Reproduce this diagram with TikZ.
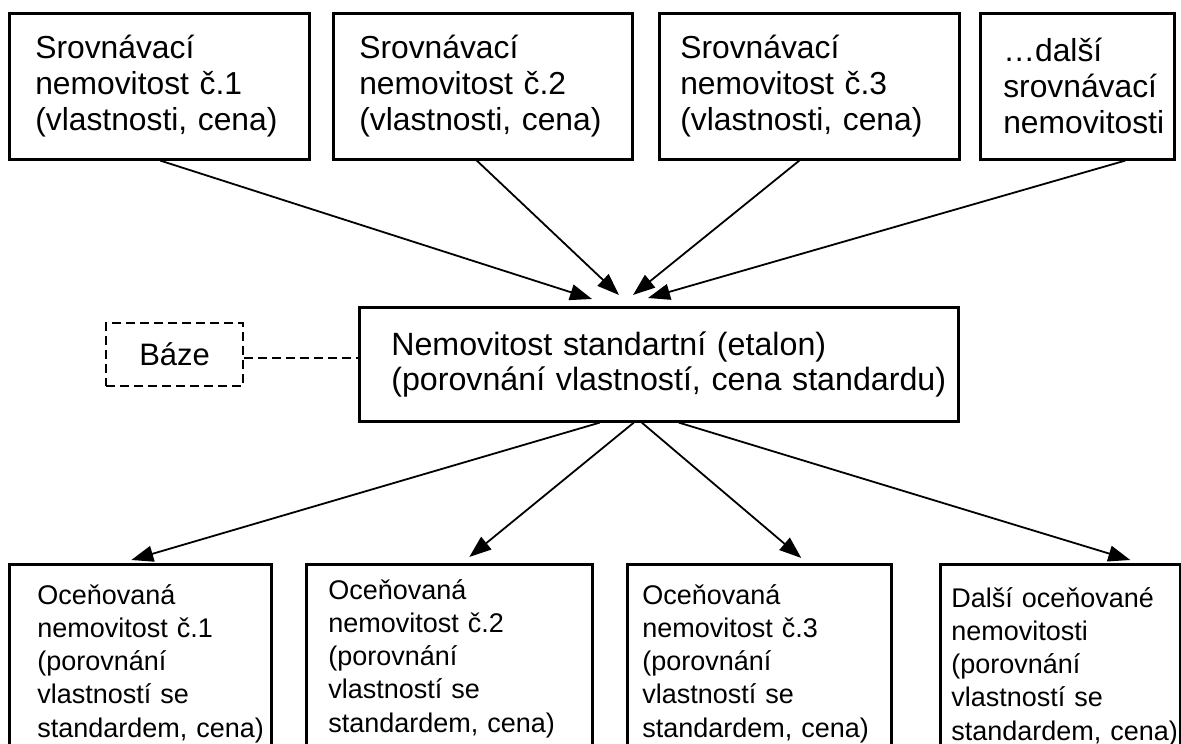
\documentclass[tikz,border=0pt]{standalone}
\usepackage{fontspec}
\setmainfont{Liberation Sans}
\usetikzlibrary{arrows.meta,positioning}

\begin{document}
\begin{tikzpicture}[x=1pt,y=-1pt,
  indent/.style={inner xsep=0pt,
                 execute at begin node={\leftskip=#1\rightskip=0pt plus 1fil minus 40pt}},
  srbox/.style={draw,line width=2.6pt,anchor=north west,align=left,
                minimum height=146pt,inner ysep=0pt,
                font=\fontsize{31.8}{36}\selectfont},
  ocbox/.style={draw,line width=2.6pt,anchor=north west,align=left,
                text height=21pt,text depth=190pt,
                font=\fontsize{27}{33.2}\selectfont},
  etbox/.style={draw,line width=2.6pt,anchor=north west,align=left,
                minimum height=114pt,inner ysep=0pt,
                font=\fontsize{32.2}{34.5}\selectfont},
  bzbox/.style={draw,line width=2.3pt,dash pattern=on 9pt off 5pt,
                anchor=north west,minimum width=137pt,minimum height=63pt,
                inner sep=0pt,font=\fontsize{31}{35}\selectfont},
  tohead/.style={line width=1.8pt,-{Triangle[length=22pt,width=16pt]}}]

  \useasboundingbox (0,0) rectangle (1181,744);
  \clip (0,0) rectangle (1181,744);

  % comparable properties
  \node[srbox,text width=300pt,indent=26pt] (sr1) at (8,12)
    {Srovnávací\\nemovitost č.1\\(vlastnosti, cena)};
  \node[srbox,text width=299pt,indent=26pt] (sr2) at (332,12)
    {Srovnávací\\nemovitost č.2\\(vlastnosti, cena)};
  \node[srbox,text width=300pt,indent=21pt] (sr3) at (658,12)
    {Srovnávací\\nemovitost č.3\\(vlastnosti, cena)};
  \node[srbox,text width=194pt,indent=23pt] (sr4) at (979,12)
    {…další\\srovnávací\\nemovitosti};

  % standard
  \node[etbox,text width=599pt,indent=32pt] (et) at (358,306)
    {Nemovitost standartní (etalon)\\(porovnání vlastností, cena standardu)};
  \node[bzbox] (bz) at (105,322) {Báze};
  \draw[line width=2.3pt,dash pattern=on 9pt off 5pt]
    ([yshift=-3pt]bz.east) -- ([yshift=-3pt]bz.east -| et.west);

  % valued properties
  \node[ocbox,text width=262pt,indent=28pt,inner ysep=19pt] (oc1) at (8,563)
    {Oceňovaná\\nemovitost č.1\\(porovnání\\vlastností se\\standardem, cena)};
  \node[ocbox,text width=286pt,indent=22pt,inner ysep=14pt] (oc2) at (305,563)
    {Oceňovaná\\nemovitost č.2\\(porovnání\\vlastností se\\standardem, cena)};
  \node[ocbox,text width=264pt,indent=15pt,inner ysep=19pt] (oc3) at (626,563)
    {Oceňovaná\\nemovitost č.3\\(porovnání\\vlastností se\\standardem, cena)};
  \node[ocbox,text width=240pt,indent=11pt,inner ysep=22pt] (oc4) at (939,563)
    {Další oceňované\\nemovitosti\\(porovnání\\vlastností se\\standardem, cena)};

  % arrow ends above the standard
  \coordinate (in1) at (592,299);
  \coordinate (in2) at (619,295);
  \coordinate (in3) at (633,295);
  \coordinate (in4) at (648,298);

  \draw[tohead] ([xshift=1pt]sr1.south) -- (in1);
  \draw[tohead] ([xshift=-6pt]sr2.south) -- (in2);
  \draw[tohead] ([xshift=-10pt]sr3.south) -- (in3);
  \draw[tohead] ([xshift=48pt]sr4.south) -- (in4);

  \draw[tohead] ([xshift=-59pt]et.south) -- ([xshift=-9pt,yshift=3pt]oc1.north);
  \draw[tohead] ([xshift=-25pt]et.south) -- ([xshift=20pt,yshift=6pt]oc2.north);
  \draw[tohead] ([xshift=-17pt]et.south) -- ([xshift=42pt,yshift=5pt]oc3.north);
  \draw[tohead] ([xshift=20pt]et.south) -- ([xshift=70pt,yshift=3pt]oc4.north);
\end{tikzpicture}
\end{document}
